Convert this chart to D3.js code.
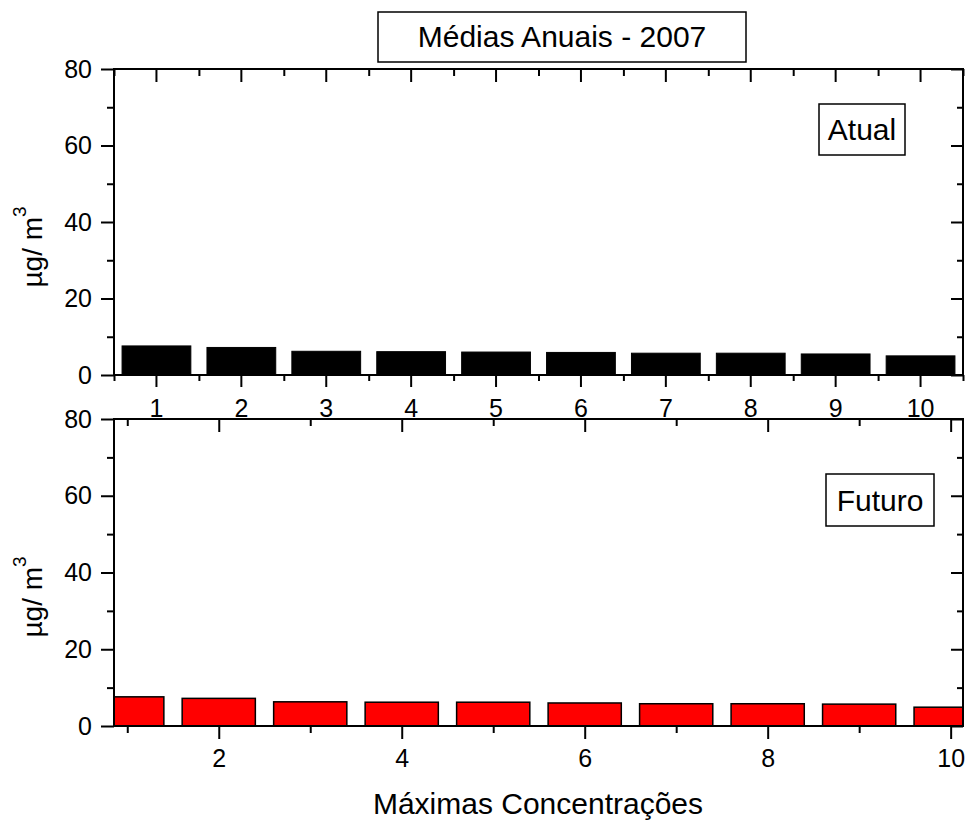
<!DOCTYPE html>
<html>
<head>
<meta charset="utf-8">
<script src="https://cdn.jsdelivr.net/npm/d3@7"></script>
<style>
body { margin: 0; background: #fff; }
text { font-family: "Liberation Sans", Arial, sans-serif; fill: #000; }
</style>
</head>
<body>
<div id="chart"></div>
<script>
// Data
const categories = [1, 2, 3, 4, 5, 6, 7, 8, 9, 10];
const atualValues = [7.6, 7.2, 6.2, 6.1, 6.0, 5.9, 5.7, 5.7, 5.5, 5.0];
const futuroValues = [7.6, 7.2, 6.3, 6.2, 6.2, 6.0, 5.8, 5.8, 5.7, 4.9];
const yMajorTicks = [0, 20, 40, 60, 80];
const yMinorTicks = [10, 30, 50, 70];
const futuroMajorTicks = [2, 4, 6, 8, 10];
const futuroMinorTicks = [1, 3, 5, 7, 9];
const atualBoundaries = [0.5, 1.5, 2.5, 3.5, 4.5, 5.5, 6.5, 7.5, 8.5, 9.5, 10.5];

const W = 966, H = 820;
const left = 114, right = 963;

const svg = d3.select("#chart")
    .append("svg")
    .attr("width", W)
    .attr("height", H);

// helper: strip the domain line from an axis and thicken the ticks
function styleAxis(g) {
    g.select(".domain").remove();
    g.selectAll(".tick line").attr("stroke", "#000").attr("stroke-width", 2);
    g.selectAll(".tick text").style("font-size", "25px").attr("fill", "#000");
}

function yLabel(cy) {
    const t = svg.append("text")
        .attr("transform", `translate(42, ${cy}) rotate(-90)`)
        .attr("text-anchor", "middle")
        .style("font-size", "28px");
    t.append("tspan").text("µg/ m");
    t.append("tspan").attr("dy", -16).style("font-size", "19px").text("3");
}

function yAxes(yScale) {
    svg.append("g")
        .attr("transform", `translate(${left},0)`)
        .call(d3.axisLeft(yScale).tickValues(yMajorTicks).tickSize(13).tickPadding(9).tickSizeOuter(0))
        .call(styleAxis);
    svg.append("g")
        .attr("transform", `translate(${left},0)`)
        .call(d3.axisLeft(yScale).tickValues(yMinorTicks).tickSize(7).tickFormat("").tickSizeOuter(0))
        .call(styleAxis);
    // mirrored ticks on the right, pointing inward
    svg.append("g")
        .attr("transform", `translate(${right},0)`)
        .call(d3.axisLeft(yScale).tickValues(yMajorTicks).tickSize(12).tickFormat("").tickSizeOuter(0))
        .call(styleAxis);
    svg.append("g")
        .attr("transform", `translate(${right},0)`)
        .call(d3.axisLeft(yScale).tickValues(yMinorTicks).tickSize(6).tickFormat("").tickSizeOuter(0))
        .call(styleAxis);
}

// ---------- Top panel: Atual ----------
const topY0 = 69, topY1 = 375;
const xBand = d3.scaleBand()
    .domain(categories)
    .range([left, right])
    .paddingInner(0.19)
    .paddingOuter(0.095);
const xEdge = d3.scaleLinear().domain([0.5, 10.5]).range([left, right]);
const yTop = d3.scaleLinear().domain([0, 80]).range([topY1, topY0]);

svg.append("g")
    .selectAll("rect")
    .data(categories)
    .enter()
    .append("rect")
    .attr("x", d => xBand(d))
    .attr("width", xBand.bandwidth())
    .attr("y", (d, i) => yTop(atualValues[i]))
    .attr("height", (d, i) => yTop(0) - yTop(atualValues[i]))
    .attr("fill", "#000")
    .attr("stroke", "#000")
    .attr("stroke-width", 1);

svg.append("g")
    .attr("transform", `translate(0,${topY1})`)
    .call(d3.axisBottom(xBand).tickSize(12).tickPadding(12).tickSizeOuter(0))
    .call(styleAxis);
svg.append("g")
    .attr("transform", `translate(0,${topY1})`)
    .call(d3.axisBottom(xEdge).tickValues(atualBoundaries).tickSize(6).tickFormat("").tickSizeOuter(0))
    .call(styleAxis);
// top edge, inward ticks
svg.append("g")
    .attr("transform", `translate(0,${topY0})`)
    .call(d3.axisBottom(xBand).tickSize(13).tickFormat("").tickSizeOuter(0))
    .call(styleAxis);
svg.append("g")
    .attr("transform", `translate(0,${topY0})`)
    .call(d3.axisBottom(xEdge).tickValues(atualBoundaries).tickSize(7).tickFormat("").tickSizeOuter(0))
    .call(styleAxis);

yAxes(yTop);

svg.append("rect")
    .attr("x", left).attr("y", topY0)
    .attr("width", right - left).attr("height", topY1 - topY0)
    .attr("fill", "none").attr("stroke", "#000").attr("stroke-width", 2);

yLabel(247);

// ---------- Bottom panel: Futuro ----------
const botY0 = 419, botY1 = 726;
const xLin = d3.scaleLinear().domain([0.855, 10.135]).range([left, right]);
const yBot = d3.scaleLinear().domain([0, 80]).range([botY1, botY0]);
const barW = 0.8;

svg.append("clipPath")
    .attr("id", "clipBot")
    .append("rect")
    .attr("x", left).attr("y", botY0)
    .attr("width", right - left).attr("height", botY1 - botY0);

svg.append("g")
    .attr("clip-path", "url(#clipBot)")
    .selectAll("rect")
    .data(categories)
    .enter()
    .append("rect")
    .attr("x", d => xLin(d - barW / 2))
    .attr("width", xLin(barW) - xLin(0))
    .attr("y", (d, i) => yBot(futuroValues[i]))
    .attr("height", (d, i) => yBot(0) - yBot(futuroValues[i]))
    .attr("fill", "#ff0000")
    .attr("stroke", "#000")
    .attr("stroke-width", 1.5);

svg.append("g")
    .attr("transform", `translate(0,${botY1})`)
    .call(d3.axisBottom(xLin).tickValues(futuroMajorTicks).tickSize(13).tickPadding(10).tickSizeOuter(0))
    .call(styleAxis);
svg.append("g")
    .attr("transform", `translate(0,${botY1})`)
    .call(d3.axisBottom(xLin).tickValues(futuroMinorTicks).tickSize(7).tickFormat("").tickSizeOuter(0))
    .call(styleAxis);
svg.append("g")
    .attr("transform", `translate(0,${botY0})`)
    .call(d3.axisBottom(xLin).tickValues(futuroMajorTicks).tickSize(13).tickFormat("").tickSizeOuter(0))
    .call(styleAxis);
svg.append("g")
    .attr("transform", `translate(0,${botY0})`)
    .call(d3.axisBottom(xLin).tickValues(futuroMinorTicks).tickSize(7).tickFormat("").tickSizeOuter(0))
    .call(styleAxis);

yAxes(yBot);

svg.append("rect")
    .attr("x", left).attr("y", botY0)
    .attr("width", right - left).attr("height", botY1 - botY0)
    .attr("fill", "none").attr("stroke", "#000").attr("stroke-width", 2);

yLabel(597);

// ---------- Titles and boxed labels ----------
function boxedText(x0, y0, x1, y1, baseline, label, size) {
    svg.append("rect")
        .attr("x", x0).attr("y", y0)
        .attr("width", x1 - x0).attr("height", y1 - y0)
        .attr("fill", "#fff").attr("stroke", "#000").attr("stroke-width", 1.5);
    svg.append("text")
        .attr("x", (x0 + x1) / 2).attr("y", baseline)
        .attr("text-anchor", "middle")
        .style("font-size", size + "px")
        .text(label);
}

boxedText(378, 12, 746, 62, 47, "Médias Anuais - 2007", 30);
boxedText(819, 104, 905, 155, 140, "Atual", 30);
boxedText(826, 474, 934, 526, 511, "Futuro", 30);

svg.append("text")
    .attr("x", 538)
    .attr("y", 814)
    .attr("text-anchor", "middle")
    .style("font-size", "30px")
    .text("Máximas Concentrações");
</script>
</body>
</html>
